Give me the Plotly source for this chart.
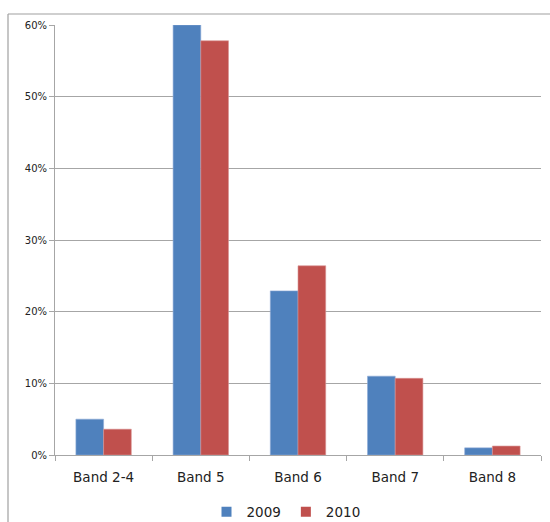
import plotly.graph_objects as go

# Share of staff by pay band, 2009 vs 2010
bands = ["Band 2-4", "Band 5", "Band 6", "Band 7", "Band 8"]
share_2009 = [0.050, 0.600, 0.229, 0.110, 0.010]
share_2010 = [0.036, 0.578, 0.264, 0.107, 0.0125]
y_ticks = [0, 0.1, 0.2, 0.3, 0.4, 0.5, 0.6]
y_tick_labels = ["0%", "10%", "20%", "30%", "40%", "50%", "60%"]
series = [("2009", share_2009, "#4F81BD", "#8EABD6"),
          ("2010", share_2010, "#C0504D", "#D89493")]

W, H = 550, 522
L, R, T, B = 55, 9, 25, 67
plot_w = W - L - R
plot_h = H - T - B


def px_x(px):
    return (px - L) / plot_w


def px_y(py):
    return (H - B - py) / plot_h


fig = go.Figure()
for name, vals, color, edge in series:
    fig.add_trace(go.Bar(
        x=bands, y=vals, name=name, showlegend=False,
        marker=dict(color=color, line=dict(color=edge, width=0.6)),
    ))
# square legend keys
for name, vals, color, edge in series:
    fig.add_trace(go.Scatter(
        x=[None], y=[None], mode="markers", name=name,
        marker=dict(symbol="square", size=10, color=color),
    ))

grey = "#a6a6a6"
fig.update_layout(
    width=W, height=H,
    margin=dict(l=L, r=R, t=T, b=B, autoexpand=False),
    paper_bgcolor="white", plot_bgcolor="white",
    barmode="group", bargap=0.43, bargroupgap=0,
    font=dict(family="DejaVu Sans", color="#222222"),
    showlegend=True,
    legend=dict(
        orientation="h", x=px_x(286), xanchor="center", y=px_y(512), yanchor="middle",
        font=dict(size=13.5, color="#222222"), traceorder="normal",
        itemwidth=30, tracegroupgap=0, bgcolor="rgba(0,0,0,0)",
    ),
    xaxis=dict(
        showline=True, linecolor=grey, linewidth=1,
        ticks="outside", ticklen=5, tickcolor=grey,
        tickson="boundaries", tickfont=dict(size=13.5, color="#222222"),
        ticklabelstandoff=10, showgrid=False,
    ),
    yaxis=dict(
        range=[0, 0.6], tickvals=y_ticks, ticktext=y_tick_labels,
        showline=True, linecolor=grey, linewidth=1,
        ticks="outside", ticklen=5, tickcolor=grey,
        showgrid=True, gridcolor=grey, gridwidth=1,
        tickfont=dict(size=10, color="#222222"), zeroline=False,
    ),
    shapes=[
        # outer chart frame (top and left edges)
        dict(type="line", xref="paper", yref="paper",
             x0=px_x(8), x1=px_x(W + 2), y0=px_y(14), y1=px_y(14),
             line=dict(color="#a0a0a0", width=1.2)),
        dict(type="line", xref="paper", yref="paper",
             x0=px_x(8), x1=px_x(8), y0=px_y(14), y1=px_y(H + 2),
             line=dict(color="#a0a0a0", width=1.2)),
    ],
)

fig.write_html("out.html")
